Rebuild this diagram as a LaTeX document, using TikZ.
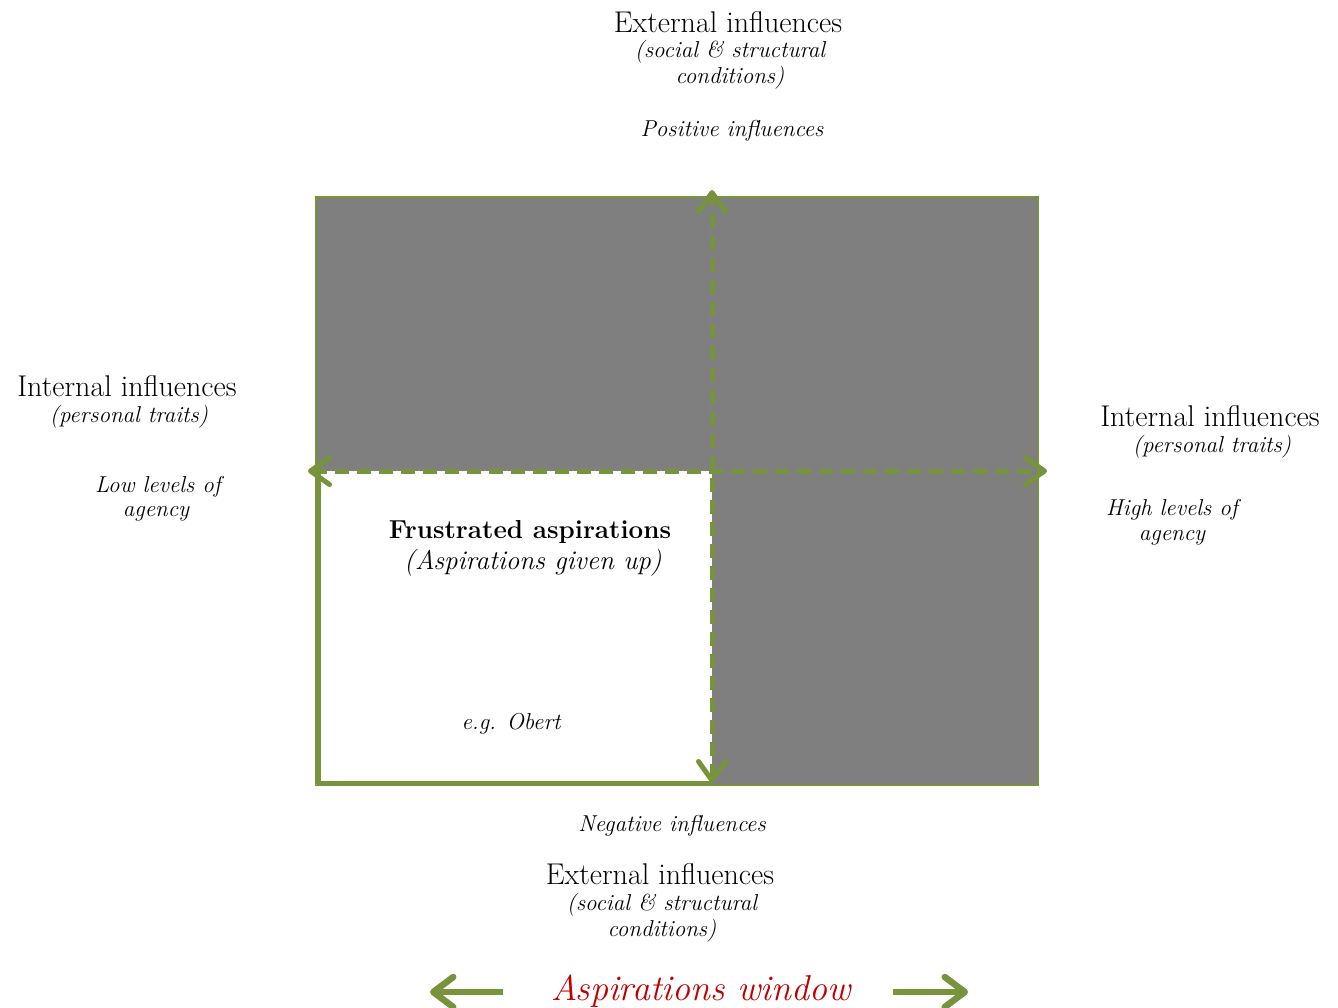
\documentclass[tikz,border=0pt]{standalone}
\usetikzlibrary{arrows.meta}
\definecolor{leaf}{HTML}{77933C}
\definecolor{panel}{HTML}{7F7F7F}
\definecolor{deepred}{HTML}{C00000}
\begin{document}
\begin{tikzpicture}[x=1pt,y=-1pt,
  head/.style={inner sep=0pt, anchor=base, font=\fontsize{30}{34}\selectfont},
  note/.style={inner sep=0pt, anchor=base, font=\fontsize{23}{27}\selectfont\itshape},
  title/.style={inner sep=0pt, anchor=base, font=\fontsize{26}{30}\selectfont\bfseries},
  subtitle/.style={inner sep=0pt, anchor=base, font=\fontsize{27}{30}\selectfont\itshape},
  barb/.tip={Straight Barb[length=19pt,width=27pt,round]},
  axis/.style={draw=leaf, line width=5pt, dash pattern=on 14pt off 8pt, barb-barb},
  pointer/.style={draw=leaf, line width=6.5pt, -{Straight Barb[length=20pt,width=30pt,round]}},
]
\useasboundingbox (0,0) rectangle (1338,1008);

% quadrant panel
\coordinate (nw) at (316,197);
\coordinate (se) at (1038,785);
\coordinate (c)  at (712,471);
\coordinate (sw) at (316,785);
\fill[panel] (nw) rectangle (se);
\draw[leaf, line width=2pt] (nw) rectangle (se);
\fill[white] (316,471) rectangle (712,785);
\draw[leaf, line width=5pt, line join=round] (318,471) -- (318,783) -- (712,783);

% axes
\coordinate (top) at (712,190);
\coordinate (bot) at (712,783);
\coordinate (lft) at (308,471);
\coordinate (rgt) at (1047,471);
\draw[axis] (bot) -- (top);
\draw[axis] (lft) -- (rgt);

% top labels
\node[head] (ext1) at (728,33) {External influences};
\node[note] (ext1a) at (730,58) {(social \& structural};
\node[note] (ext1b) at (730,84) {conditions)};
\node[note] (pos) at (732,137) {Positive influences};

% left labels
\node[head] (intL) at (127,396) {Internal influences};
\node[note] (intLa) at (129,422) {(personal traits)};
\node[note] (lowA) at (158,492) {Low levels of};
\node[note] (lowB) at (156,516) {agency};

% right labels
\node[head] (intR) at (1210,426) {Internal influences};
\node[note] (intRa) at (1212,452) {(personal traits)};
\node[note] (highA) at (1172,515) {High levels of};
\node[note] (highB) at (1172,540) {agency};

% quadrant text
\node[title] (fr) at (530,538) {Frustrated aspirations};
\node[subtitle] (frs) at (533,569) {(Aspirations given up)};
\node[note] (eg) at (511,729) {e.g. Obert};

% bottom labels
\node[note] (neg) at (672,831) {Negative influences};
\node[head] (ext2) at (660,884) {External influences};
\node[note] (ext2a) at (662,910) {(social \& structural};
\node[note] (ext2b) at (662,936) {conditions)};

% aspirations window
\node[inner sep=0pt, anchor=base, text=deepred, font=\fontsize{36}{40}\selectfont\itshape] (win) at (701,1000) {Aspirations window};
\coordinate (la) at (503,992);
\coordinate (lb) at (430,992);
\coordinate (ra) at (893,992);
\coordinate (rb) at (968,992);
\draw[pointer] (la) -- (lb);
\draw[pointer] (ra) -- (rb);
\end{tikzpicture}
\end{document}
